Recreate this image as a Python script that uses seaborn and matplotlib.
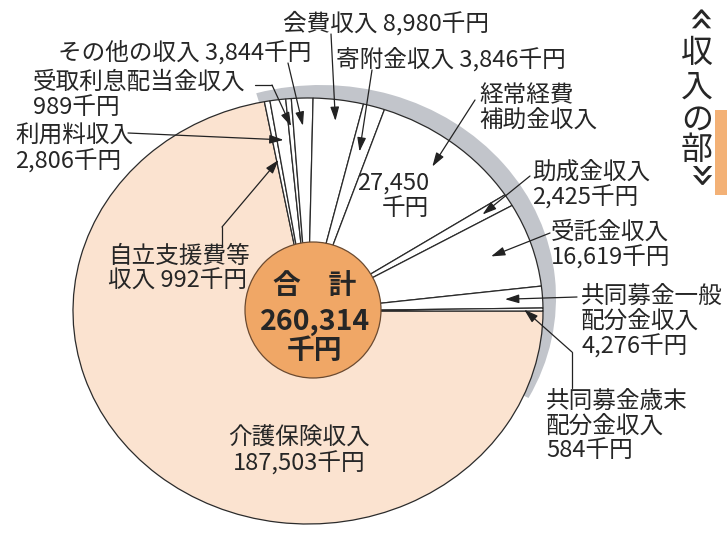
import numpy as np
import matplotlib.pyplot as plt
import seaborn as sns
from matplotlib.patches import Wedge, Ellipse, Rectangle

# データ（千円）
names = ["介護保険収入", "自立支援費等収入", "利用料収入", "受取利息配当金収入",
         "その他の収入", "会費収入", "寄附金収入", "経常経費補助金収入",
         "助成金収入", "受託金収入", "共同募金一般配分金収入", "共同募金歳末配分金収入"]
values = [187503, 992, 2806, 989, 3844, 8980, 3846, 27450, 2425, 16619, 4276, 584]
# ラベルの改行位置
label_fmt = ["介護保険収入\n{v}千円", "自立支援費等\n収入 {v}千円", "利用料収入\n{v}千円",
             "受取利息配当金収入\n{v}千円", "その他の収入 {v}千円", "会費収入 {v}千円",
             "寄附金収入 {v}千円", "経常経費\n補助金収入", "助成金収入\n{v}千円",
             "受託金収入\n{v}千円", "共同募金一般\n配分金収入\n{v}千円",
             "共同募金歳末\n配分金収入\n{v}千円"]
title_chars = ["«", "収", "入", "の", "部", "»"]

sns.set_theme(style="white")
plt.rcParams['font.family'] = ['Noto Sans CJK JP', 'DejaVu Sans']

W, H = 727, 534
CX, CY, RX, RY = 308, 311, 235, 213
TXT = "#262626"
LINE = "#222222"


def P(x, y):
    # ピクセル位置 -> データ座標
    return ((x - CX) / RX, (CY - y) / RY)


fig = plt.figure(figsize=(W / 100, H / 100), dpi=100)
ax = fig.add_axes([0, 0, 1, 1])

# 影（グレーの帯）
ax.add_patch(Wedge((13 / RX, 13 / RY), 1.0, -28, 106, facecolor="#c2c5cb",
                   edgecolor="none", zorder=0))

colors_ = ["#fbe3d0"] + ["#ffffff"] * (len(values) - 1)
ax.pie(values, colors=colors_, startangle=0, counterclock=False, radius=1,
       wedgeprops=dict(edgecolor="#2b2b2b", linewidth=0.9))

total = sum(values)
cum = np.cumsum(values)
mid = np.deg2rad(-360 * (cum - np.array(values) / 2) / total)


def target(i, r):
    return (r * np.cos(mid[i]), r * np.sin(mid[i]))


# 中央の円
ox, oy = P(313, 310)
ax.add_patch(Ellipse((ox, oy), 2 * 68 / RX, 2 * 68 / RY, facecolor="#f0a766",
                     edgecolor="#6b4a30", linewidth=0.9, zorder=3))
ax.text(*P(315, 286), "合　計", ha="center", va="center", fontsize=20,
        fontweight="bold", color=TXT, zorder=4)
ax.text(*P(315, 322), f"{total:,}", ha="center", va="center", fontsize=20.5,
        fontweight="bold", color=TXT, zorder=4)
ax.text(*P(315, 351), "千円", ha="center", va="center", fontsize=20,
        fontweight="bold", color=TXT, zorder=4)

# ラベル配置（ピクセル: x, y, ha）
label_pos = [(299, 451, "center"), (108, 269, "left"), (15, 149, "left"),
             (33, 95, "left"), (58, 52, "left"), (283, 23, "left"),
             (336, 59, "left"), (479, 108, "left"), (532, 185, "left"),
             (551, 245, "left"), (581, 322, "left"), (546, 426, "left")]
for i, (fmt, (x, y, ha)) in enumerate(zip(label_fmt, label_pos)):
    ax.text(*P(x, y), fmt.format(v=f"{values[i]:,}"), ha=ha, va="center",
            fontsize=17, color=TXT, linespacing=1.1, zorder=4)

# 経常経費の金額はスライス内
ax.text(*P(393, 196), f"{values[7]:,}\n千円", ha="center", va="center",
        multialignment="right", fontsize=17, color=TXT, linespacing=1.1, zorder=4)

# 引き出し線（始点ピクセル、折れ点、半径）
leaders = [
    (1, [(222, 247), (222, 227)], 0.72),
    (2, [(128, 133)], 0.81),
    (3, [(255, 85), (272, 85)], 0.87),
    (4, [(288, 63)], 0.87),
    (5, [(331, 34)], 0.90),
    (6, [(372, 70)], 0.78),
    (7, [(475, 100)], 0.86),
    (8, [(530, 176)], 0.87),
    (9, [(550, 233)], 0.82),
    (10, [(577, 297)], 0.84),
    (11, [(572, 388), (572, 352)], 0.92),
]
for i, pts, r in leaders:
    dpts = [P(x, y) for x, y in pts]
    if len(dpts) > 1:
        ax.plot([p[0] for p in dpts], [p[1] for p in dpts], color=LINE, lw=0.9, zorder=5)
    ax.annotate("", xy=target(i, r), xytext=dpts[-1],
                arrowprops=dict(arrowstyle="-|>,head_length=0.7,head_width=0.22",
                                color=LINE, lw=0.9, shrinkA=0, shrinkB=0,
                                mutation_scale=12), zorder=5)

# 縦書きタイトル（«»は回転して縦向きに）
title_xy = [(697, 21), (697, 53), (697, 88), (697, 120), (697, 150), (697, 178)]
for ch, (x, y) in zip(title_chars, title_xy):
    if ch in "«»":
        ax.text(*P(x, y), ch, ha="center", va="center", fontsize=31,
                rotation=-90, color=TXT, family="DejaVu Sans")
    else:
        ax.text(*P(x, y), ch, ha="center", va="center", fontsize=23, color=TXT)

ax.add_patch(Rectangle(P(715, 195), 12 / RX, 85 / RY, facecolor="#f2a45e",
                       edgecolor="none", alpha=0.85))

ax.set_xlim(P(0, 0)[0], P(W, 0)[0])
ax.set_ylim(P(0, H)[1], P(0, 0)[1])
ax.set_aspect("auto")
ax.axis("off")

fig.savefig("out.png", dpi=100)
